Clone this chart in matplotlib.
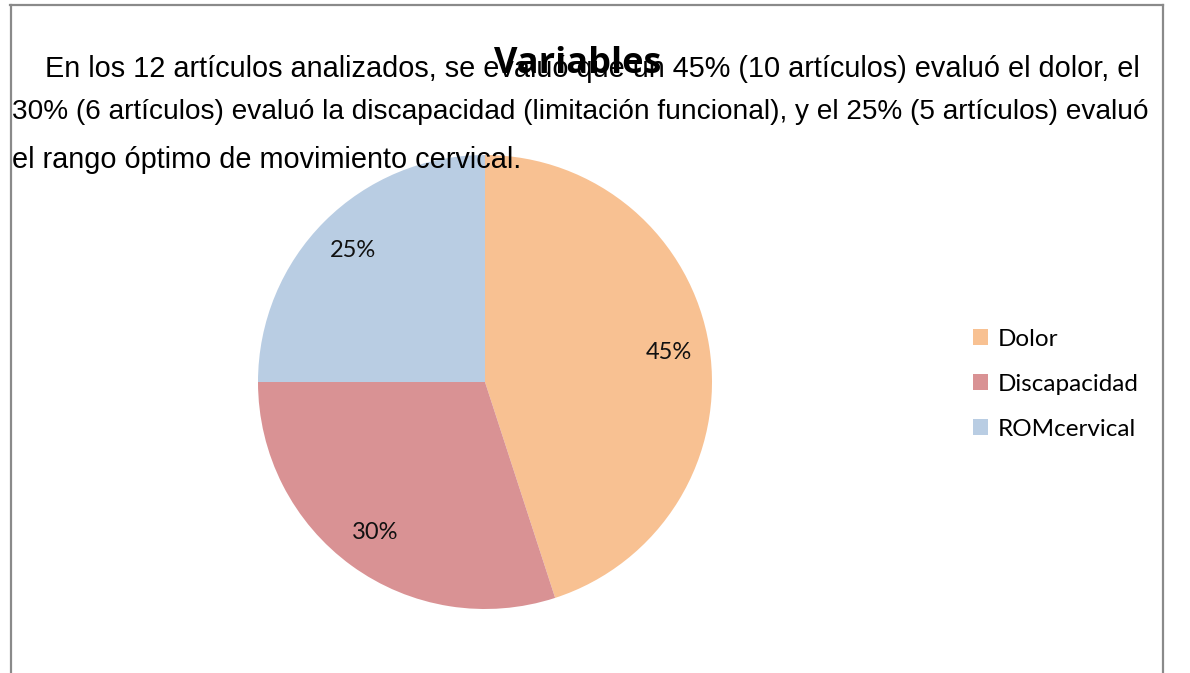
import matplotlib
matplotlib.use("Agg")
import matplotlib.pyplot as plt
from matplotlib.patches import Patch
from matplotlib.lines import Line2D

categories = ["Dolor", "Discapacidad", "ROMcervical"]
values = [45, 30, 25]
colors = ["#F8C192", "#D99294", "#B9CDE3"]
title = "Variables"
paragraph = [
    "En los 12 artículos analizados, se evaluó que un 45% (10 artículos) evaluó el dolor, el",
    "30% (6 artículos) evaluó la discapacidad (limitación funcional), y el 25% (5 artículos) evaluó",
    "el rango óptimo de movimiento cervical.",
]

W, H = 1190, 673
fig = plt.figure(figsize=(W / 100, H / 100), dpi=100)

def fx(x):
    return x / W

def fy(y):
    return 1 - y / H

# border
for xs, ys in [((10, 1163), (5, 5)), ((11, 11), (5, 673)), ((1163, 1163), (5, 673))]:
    fig.add_artist(Line2D([fx(xs[0]), fx(xs[1])], [fy(ys[0]), fy(ys[1])],
                          color="#8a8a8a", lw=1.6, transform=fig.transFigure))

# pie axes
cx, cy, r = 485, 382, 227
ax = fig.add_axes([fx(cx - r), fy(cy + r), 2 * r / W, 2 * r / H])
wedges, texts, autotexts = ax.pie(
    values, colors=colors, startangle=90, counterclock=False,
    autopct="%d%%", pctdistance=0.82, radius=1,
    wedgeprops=dict(linewidth=0),
    textprops=dict(family="Lato", fontsize=17, color="#111111"),
)
ax.set_xlim(-1, 1)
ax.set_ylim(-1, 1)
ax.set_aspect("auto")
ax.axis("off")

# legend
handles = [Patch(facecolor=c, edgecolor="none") for c in colors]
fig.legend(handles, categories, loc="upper left",
           bbox_to_anchor=(fx(951), fy(307)), frameon=False,
           prop=dict(family="Lato", size=17.5), handlelength=0.62, handleheight=0.62,
           handletextpad=0.4, labelspacing=0.98)

# title
fig.text(fx(578), fy(73), title, ha="center", va="baseline",
         family="Open Sans", fontweight="bold", fontsize=26, color="#000000")

# paragraph
line_pos = [(45, 77), (12, 119), (12, 168)]
line_size = [20.8, 20.2, 20.8]
for (x, y), s, line in zip(line_pos, line_size, paragraph):
    fig.text(fx(x), fy(y), line, ha="left", va="baseline",
             family="Liberation Sans", fontsize=s, color="#000000")

fig.savefig("out.png", dpi=100)
